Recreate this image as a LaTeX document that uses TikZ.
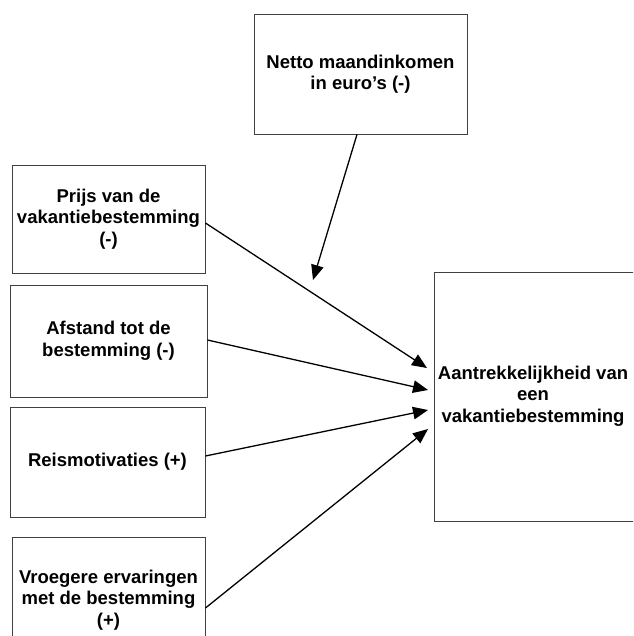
\documentclass[tikz,border=0pt]{standalone}
\usepackage{fontspec}
\setmainfont{Liberation Sans}
\usetikzlibrary{arrows.meta}
\definecolor{boxline}{HTML}{404040}
\tikzset{
  factor/.style={draw=boxline, line width=0.9pt, rectangle, inner sep=0pt,
    align=center, font=\fontsize{18.5}{21.5}\selectfont\bfseries},
  plain/.style={align=center, inner sep=0pt, font=\fontsize{18.5}{21.5}\selectfont\bfseries},
  effect/.style={draw=black, line width=1.3pt, -{Triangle[length=15pt,width=12.5pt]}}
}
\begin{document}
\begin{tikzpicture}[x=1pt,y=-1pt]
\useasboundingbox (0,0) rectangle (633,636);
\clip (0,0) rectangle (633,636);
\node[factor, minimum width=213pt, minimum height=120pt] (inc) at (360.5,74) {Netto maandinkomen\\in euro’s (-)};
\node[factor, minimum width=193pt, minimum height=108pt] (price) at (108.5,219) {Prijs van de\\vakantiebestemming\\(-)};
\node[factor, minimum width=197pt, minimum height=112pt] (dist) at (108.5,341) {Afstand tot de\\bestemming (-)};
\node[factor, minimum width=195pt, minimum height=110pt] (motiv) at (107.5,462) {Reismotivaties (+)};
\node[factor, minimum width=193pt, minimum height=126pt] (exp) at (108.5,600) {Vroegere ervaringen\\met de bestemming\\(+)};
\node[factor, minimum width=210pt, minimum height=249pt] (goal) at (539,396.5) {};
\node[plain] (goaltext) at (533,396) {Aantrekkelijkheid van\\een\\vakantiebestemming};
\coordinate (tinc) at (313,280);
\coordinate (t1) at (427,368);
\coordinate (t2) at (428,390);
\coordinate (t3) at (428,410);
\coordinate (t4) at (428,429);
\draw[effect] ([xshift=-3.5pt]inc.south) -- (tinc);
\draw[effect] ([yshift=-4pt]price.east) -- (t1);
\draw[effect] ([yshift=1pt]dist.east) -- (t2);
\draw[effect] ([yshift=6pt]motiv.east) -- (t3);
\draw[effect] ([yshift=-8pt]exp.east) -- (t4);
\end{tikzpicture}
\end{document}
